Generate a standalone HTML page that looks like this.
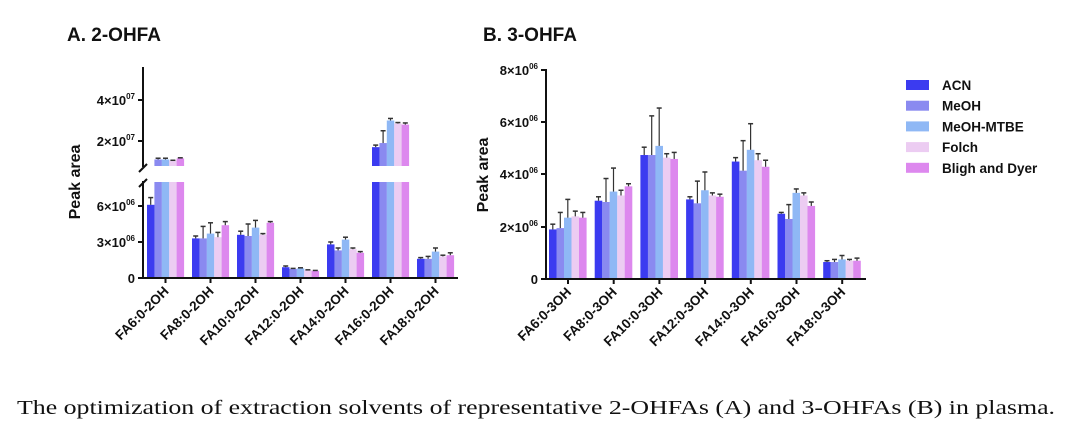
<!DOCTYPE html><html><head><meta charset="utf-8"><style>
body{margin:0;background:#fff;width:1080px;height:441px;overflow:hidden}
svg text{font-family:"Liberation Sans",Arial,sans-serif;font-weight:bold;fill:#111}
</style></head><body>
<svg id="s" width="1080" height="441" xmlns="http://www.w3.org/2000/svg">
<text x="67" y="41" font-size="19">A. 2-OHFA</text>
<text x="483" y="41" font-size="19">B. 3-OHFA</text>
<text x="17" y="414" style="font-family:'Liberation Serif',serif;font-weight:normal" font-size="20" textLength="1038" lengthAdjust="spacingAndGlyphs">The optimization of extraction solvents of representative 2-OHFAs (A) and 3-OHFAs (B) in plasma.</text>
</svg>
<script>
const s=document.getElementById('s');const NS='http://www.w3.org/2000/svg';
function el(t,a,txt){const e=document.createElementNS(NS,t);for(const k in a)e.setAttribute(k,a[k]);if(txt!==undefined)e.innerHTML=txt;s.appendChild(e);return e;}
const C=['#3b3bf0','#8a8af0','#8fb8f5','#ecccf2','#dd88ee'];
function ytick(x,y,lab){el('line',{x1:x-5,y1:y,x2:x,y2:y,stroke:'#111','stroke-width':2});el('text',{x:x-8,y:y+5,'font-size':13,'text-anchor':'end'},lab);}
function err(x,y,e,sc){const t=y-e*sc;el('line',{x1:x,y1:y,x2:x,y2:t,stroke:'#333','stroke-width':1.2});el('line',{x1:x-2.5,y1:t,x2:x+2.5,y2:t,stroke:'#333','stroke-width':1.5});}
function xlabels(cx,base,names){names.forEach((n,i)=>{el('line',{x1:cx[i],y1:base,x2:cx[i],y2:base+5,stroke:'#111','stroke-width':2});el('text',{x:cx[i]+4,y:base+14,'font-size':13.5,'text-anchor':'end',transform:`rotate(-45 ${cx[i]+4} ${base+14})`},n);});}
const A=[[[6.1,.6],[11,.6],[11,.6],[10.5,.1],[11.5,.3]],[[3.3,.2],[3.3,1],[3.7,.9],[3.4,.4],[4.4,.3]],[[3.6,.3],[3.5,1],[4.2,.6],[3.6,.1],[4.6,.1]],[[.9,.1],[.75,.05],[.8,.05],[.65,.03],[.6,.03]],[[2.8,.2],[2.3,.2],[3.2,.2],[2.4,.1],[2.1,.1]],[[17,1],[19,6],[30,1],[28.5,.5],[28,.8]],[[1.6,.1],[1.6,.2],[2.2,.3],[1.8,.1],[1.9,.2]]];
const yL=v=>278-v*12, yU=v=>161.5-(v-10)*2.05;
const cxA=[];
A.forEach((g,i)=>{const x0=147+i*45;cxA.push(x0+18.5);g.forEach((b,j)=>{const x=x0+j*7.4;const v=b[0];
 if(v<=8){el('rect',{x:x,y:yL(v),width:7.5,height:278-yL(v),fill:C[j]});err(x+3.7,yL(v),b[1],12);}
 else{el('rect',{x:x,y:182,width:7.5,height:96,fill:C[j]});el('rect',{x:x,y:yU(v),width:7.5,height:166-yU(v),fill:C[j]});err(x+3.7,yU(v),b[1],2.05);}});});
el('line',{x1:143,y1:67,x2:143,y2:167,stroke:'#111','stroke-width':2});
el('line',{x1:143,y1:181,x2:143,y2:279,stroke:'#111','stroke-width':2});
el('line',{x1:139,y1:172,x2:147,y2:164,stroke:'#111','stroke-width':2});
el('line',{x1:139,y1:187,x2:147,y2:179,stroke:'#111','stroke-width':2});
el('line',{x1:142,y1:278,x2:458,y2:278,stroke:'#111','stroke-width':2});
ytick(143,100,'4×10<tspan font-size="8" dy="-6">07</tspan>');ytick(143,141,'2×10<tspan font-size="8" dy="-6">07</tspan>');
ytick(143,206,'6×10<tspan font-size="8" dy="-6">06</tspan>');ytick(143,242,'3×10<tspan font-size="8" dy="-6">06</tspan>');ytick(143,278,'0');
el('text',{x:0,y:0,'font-size':16,'text-anchor':'middle',transform:'translate(80,182) rotate(-90)'},'Peak area');
xlabels(cxA,278,['FA6:0-2OH','FA8:0-2OH','FA10:0-2OH','FA12:0-2OH','FA14:0-2OH','FA16:0-2OH','FA18:0-2OH']);
const B=[[[1.9,.2],[1.95,.6],[2.35,.7],[2.4,.2],[2.35,.2]],[[3,.15],[2.95,.9],[3.35,.9],[3.2,.2],[3.55,.1]],[[4.75,.3],[4.75,1.5],[5.1,1.45],[4.65,.15],[4.6,.25]],[[3.05,.1],[2.9,.85],[3.4,.7],[3.2,.1],[3.15,.1]],[[4.5,.15],[4.15,1.15],[4.95,1],[4.55,.25],[4.3,.25]],[[2.5,.05],[2.3,.55],[3.3,.15],[3.2,.1],[2.8,.15]],[[.65,.05],[.65,.1],[.75,.15],[.7,.05],[.7,.1]]];
const yB=v=>279-v*26.1;const cxB=[];
B.forEach((g,i)=>{const x0=549+i*45.7;cxB.push(x0+19);g.forEach((b,j)=>{const x=x0+j*7.5;el('rect',{x:x,y:yB(b[0]),width:7.6,height:279-yB(b[0]),fill:C[j]});err(x+3.8,yB(b[0]),b[1],26.1);});});
el('line',{x1:546,y1:69,x2:546,y2:280,stroke:'#111','stroke-width':2});
el('line',{x1:545,y1:279,x2:866,y2:279,stroke:'#111','stroke-width':2});
[[8,70],[6,122],[4,174],[2,227]].forEach(([v,y])=>ytick(546,y,v+'×10<tspan font-size="8" dy="-6">06</tspan>'));ytick(546,279,'0');
el('text',{x:0,y:0,'font-size':16,'text-anchor':'middle',transform:'translate(488,175) rotate(-90)'},'Peak area');
xlabels(cxB,279,['FA6:0-3OH','FA8:0-3OH','FA10:0-3OH','FA12:0-3OH','FA14:0-3OH','FA16:0-3OH','FA18:0-3OH']);
['ACN','MeOH','MeOH-MTBE','Folch','Bligh and Dyer'].forEach((n,i)=>{const y=85+i*20.7;el('rect',{x:906,y:y-5,width:23,height:10,fill:C[i]});el('text',{x:942,y:y+5,'font-size':13.5},n);});
</script>
</body></html>
